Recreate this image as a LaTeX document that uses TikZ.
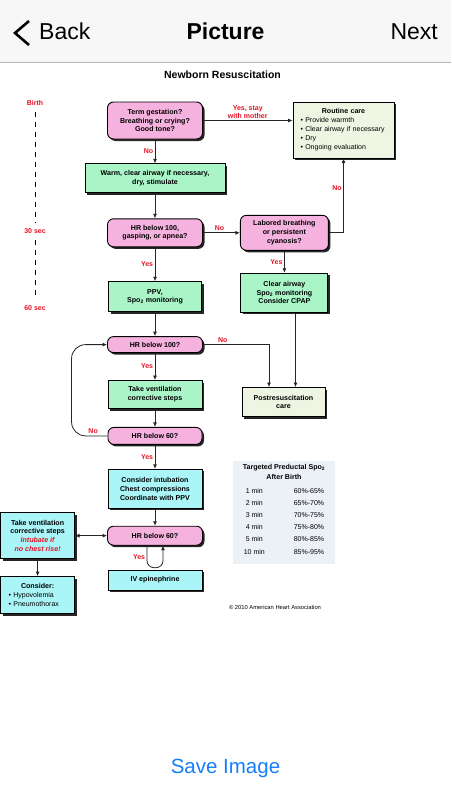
\documentclass[tikz,border=0pt]{standalone}
\usepackage{fontspec}
\setmainfont{Liberation Sans}
\usepackage{xcolor}
\usetikzlibrary{arrows.meta, positioning, calc, shadows}
\definecolor{navgray}{RGB}{247,247,247}
\definecolor{navline}{RGB}{180,180,180}
\definecolor{iosblue}{RGB}{20,126,251}
\definecolor{boxpink}{RGB}{245,178,222}
\definecolor{boxgreen}{RGB}{170,245,200}
\definecolor{boxcyan}{RGB}{170,245,248}
\definecolor{boxpale}{RGB}{238,245,227}
\definecolor{tablebg}{RGB}{236,241,247}
\definecolor{labelred}{RGB}{232,17,35}

\begin{document}
\begin{tikzpicture}[
  x=1pt, y=-1pt,
  box/.style={
    draw=black,
    line width=0.9pt,
    align=center,
    inner sep=0pt,
    font=\fontsize{7.1}{8.7}\selectfont\bfseries,
    drop shadow={shadow xshift=2pt, shadow yshift=-2pt, opacity=1, fill=black!85}
  },
  question/.style={box, fill=boxpink, rounded corners=6pt},
  action/.style={box, fill=boxgreen},
  advanced/.style={box, fill=boxcyan},
  outcome/.style={box, fill=boxpale},
  answer/.style={text=labelred, font=\fontsize{7}{8}\selectfont\bfseries, inner sep=1.5pt, align=center},
  navtext/.style={font=\fontsize{23}{26}\selectfont, inner sep=0pt},
  arrow/.style={-{Latex[length=4.5pt, width=4pt]}, line width=0.8pt, draw=black!85},
  twoway/.style={arrow, {Latex[length=4.5pt, width=4pt]}-{Latex[length=4.5pt, width=4pt]}},
  timeline/.style={dash pattern=on 5pt off 5pt, line width=1pt, shorten <=5pt, shorten >=4pt}
]
\useasboundingbox (0,0) rectangle (451,800);

% top bar
\fill[navgray] (0,0) rectangle (451,62);
\draw[navline, line width=1pt] (0,62.5) -- (451,62.5);
\draw[line width=2.6pt] (29,21) -- (15,33) -- (29,45);
\node[navtext, anchor=base west] (back) at (39,40) {Back};
\node[navtext, anchor=base, font=\fontsize{23}{26}\selectfont\bfseries] (navtitle) at (225.5,40) {Picture};
\node[navtext, anchor=base east] (next) at (438,40) {Next};

\node[font=\fontsize{10.5}{12}\selectfont\bfseries, anchor=base] (title) at (222.5,78) {Newborn Resuscitation};

% time line
\node[answer] (birth) at (35,103) {Birth};
\node[answer] (thirty) at (35,231) {30 sec};
\node[answer] (sixty) at (35,308) {60 sec};
\draw[timeline] (birth) -- (thirty);
\draw[timeline] (thirty) -- (sixty);

% main column
\node[question, minimum width=95pt, minimum height=37pt] (term) at (155,120.5)
  {Term gestation?\\Breathing or crying?\\Good tone?};
\node[action, minimum width=140pt, minimum height=29pt, below=24pt of term] (warm)
  {Warm, clear airway if necessary,\\dry, stimulate};
\node[question, minimum width=95pt, minimum height=28pt, below=25pt of warm] (gasping)
  {HR below 100,\\gasping, or apnea?};
\node[action, minimum width=93pt, minimum height=30pt, below=34pt of gasping] (ppv)
  {PPV,\\Spo\textsubscript{2} monitoring};
\node[question, minimum width=95pt, minimum height=16pt, below=24pt of ppv] (hrhundred)
  {HR below 100?};
\node[action, minimum width=94pt, minimum height=28pt, below=27pt of hrhundred] (correct)
  {Take ventilation\\corrective steps};
\node[question, minimum width=94pt, minimum height=17pt, below=18pt of correct] (hrsixty)
  {HR below 60?};
\node[advanced, minimum width=94pt, minimum height=39pt, below=24pt of hrsixty] (intubate)
  {Consider intubation\\Chest compressions\\Coordinate with PPV};
\node[question, minimum width=95pt, minimum height=19pt, below=17pt of intubate] (hrsixtyb)
  {HR below 60?};
\node[advanced, minimum width=94pt, minimum height=20pt, below=24pt of hrsixtyb] (epi)
  {IV epinephrine};

% right column
\node[outcome, minimum width=101pt, minimum height=56pt, text width=86pt, align=left,
  font=\fontsize{7}{9}\selectfont] (routine) at (343.5,130)
  {\makebox[86pt]{\fontsize{7.1}{9}\selectfont\bfseries Routine care}\\
   \textbullet\ Provide warmth\\
   \textbullet\ Clear airway if necessary\\
   \textbullet\ Dry\\
   \textbullet\ Ongoing evaluation};
\node[question, minimum width=88pt, minimum height=35pt, right=37pt of gasping] (labored)
  {Labored breathing\\or persistent\\cyanosis?};
\node[action, minimum width=87pt, minimum height=39pt, below=22pt of labored] (cpap)
  {Clear airway\\Spo\textsubscript{2} monitoring\\Consider CPAP};
\node[outcome, minimum width=83pt, minimum height=29pt] (postres) at (283.5,402)
  {Postresuscitation\\care};

% left column
\node[advanced, minimum width=74pt, minimum height=46pt, left=32pt of hrsixtyb] (ventrise)
  {Take ventilation\\corrective steps\\{\color{labelred}\itshape Intubate if}\\{\color{labelred}\itshape no chest rise!}};
\node[advanced, minimum width=74pt, minimum height=37pt, text width=58pt, align=left,
  font=\fontsize{7}{9}\selectfont, below=17pt of ventrise] (consider)
  {\makebox[58pt]{\fontsize{7.1}{9}\selectfont\bfseries Consider:}\\
   \textbullet\ Hypovolemia\\
   \textbullet\ Pneumothorax};

% SpO2 targets
\node[fill=tablebg, minimum width=102pt, minimum height=103pt, inner sep=0pt] (spotable) at (284,512.5) {};
\node[font=\fontsize{7.1}{10}\selectfont\bfseries, align=center, inner sep=0pt, below=3pt of spotable.north] (spotitle)
  {Targeted Preductal Spo\textsubscript{2}\\After Birth};
\node[font=\fontsize{7}{12.2}\selectfont, inner sep=0pt, below=5pt of spotitle.south -| spotable] (spovalues)
  {\begin{tabular}{@{}c@{\hspace{29pt}}r@{}}
   1 min & 60\%-65\%\\
   2 min & 65\%-70\%\\
   3 min & 70\%-75\%\\
   4 min & 75\%-80\%\\
   5 min & 80\%-85\%\\
   10 min & 85\%-95\%
   \end{tabular}};

\node[font=\fontsize{5.8}{7}\selectfont] (copyright) at (275,607) {© 2010 American Heart Association};

% connectors
\coordinate (postleft) at ($(postres.north)+(-14.5,0)$);
\coordinate (postright) at ($(postres.north)+(12,0)$);
\coordinate (epiout) at ($(hrsixtyb.south)+(-8,0)$);
\coordinate (epiin) at ($(hrsixtyb.south)+(8,0)$);

\draw[arrow] (term) -- node[answer, left] {No} (warm);
\draw[arrow] (term.east) -- node[answer, above] {Yes, stay\\with mother} (term.east -| routine.west);
\draw[arrow] (warm) -- (gasping);
\draw[arrow] (gasping) -- node[answer, above, pos=.45] {No} (labored);
\draw[arrow] (labored.east) -| node[answer, left, pos=.8] {No} (routine.south);
\draw[arrow] (labored) -- node[answer, left] {Yes} (cpap);
\draw[arrow] (gasping) -- node[answer, left] {Yes} (ppv);
\draw[arrow] (ppv) -- (hrhundred);
\draw[arrow] (hrhundred.east) -| node[answer, above, pos=.15] {No} (postleft);
\draw[arrow] (cpap.south -| postright) -- (postright);
\draw[arrow] (hrhundred) -- node[answer, left] {Yes} (correct);
\draw[arrow] (correct) -- (hrsixty);
\draw[arrow, rounded corners=14pt] (hrsixty.west) -- node[answer, above, pos=.4] {No} ++(-36,0) |- (hrhundred.west);
\draw[arrow] (hrsixty) -- node[answer, left] {Yes} (intubate);
\draw[arrow] (intubate) -- (hrsixtyb);
\draw[twoway] (hrsixtyb) -- (ventrise);
\draw[arrow] (ventrise) -- (consider);
\draw[arrow, rounded corners=7pt] (epiout) -- node[answer, left] {Yes} ++(0,22) -| (epiin);

\node[font=\fontsize{20.5}{24}\selectfont, text=iosblue, anchor=base] (save) at (225.5,773) {Save Image};
\end{tikzpicture}
\end{document}
